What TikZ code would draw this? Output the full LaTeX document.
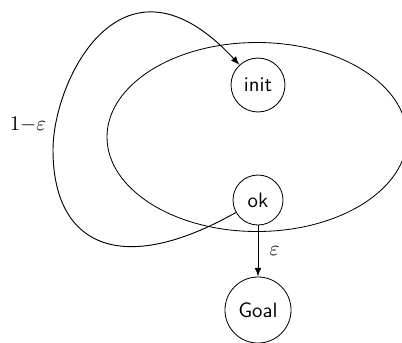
\documentclass[tikz,border=0pt]{standalone}
\usetikzlibrary{arrows}
\begin{document}
\begin{tikzpicture}[x=0.48pt,y=-0.48pt,
  state/.style={draw,circle,inner sep=0pt,font=\sffamily},
  trans/.style={-latex,line width=0.45pt}]
\useasboundingbox (0,0) rectangle (402,342);
\draw (257,137) ellipse [x radius=150, y radius=94.5];
\node[state,minimum size=25.9pt] (init) at (258,85) {init};
\node[state,minimum size=24pt] (ok) at (258,200) {ok};
\node[state,minimum size=31.7pt] (goal) at (258,310) {Goal};
\coordinate (l) at (53,150);
\draw[trans] (ok) .. controls (120,278) and (53,245) .. (l)
  .. controls (53,80) and (122.4,-62.1) .. (init);
\node (lab1) at (28,125) {$1{-}\varepsilon$};
\draw[trans] (ok) -- node[right,xshift=2pt] (lab2) {$\varepsilon$} (goal);
\end{tikzpicture}
\end{document}
